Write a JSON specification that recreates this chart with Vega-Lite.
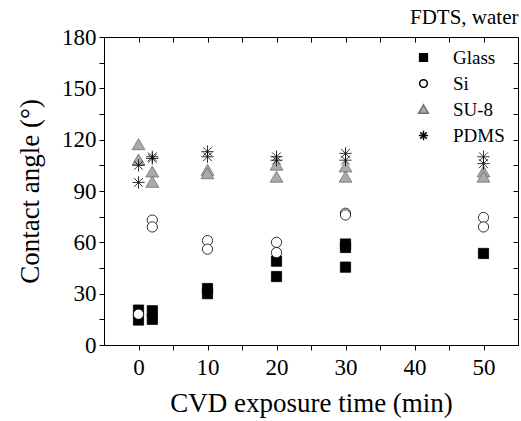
{
  "$schema": "https://vega.github.io/schema/vega-lite/v6.json",
  "autosize": "none",
  "width": 414,
  "height": 308,
  "padding": {"left": 104, "top": 37, "right": 3, "bottom": 76},
  "background": "white",
  "title": {"text": "FDTS, water", "anchor": "end", "font": "Liberation Serif, Times New Roman, serif", "fontSize": 21, "fontWeight": "normal", "color": "black", "offset": -2},
  "config": {
    "font": "Liberation Serif, Times New Roman, serif",
    "view": {"stroke": "black", "strokeWidth": 1},
    "axis": {"grid": false, "domainColor": "black", "tickColor": "black", "labelColor": "black", "titleColor": "black", "labelFont": "Liberation Serif, Times New Roman, serif", "titleFont": "Liberation Serif, Times New Roman, serif", "labelFontSize": 23, "titleFontSize": 27, "titleFontWeight": "normal"},
    "legend": {"labelFont": "Liberation Serif, Times New Roman, serif", "labelFontSize": 19, "labelColor": "black", "symbolSize": 60, "rowPadding": 6, "labelOffset": 20, "padding": 0}
  },
  "data": {"values": [
    {"series": "Glass", "time": 0, "angle": 20.4},
    {"series": "Glass", "time": 0, "angle": 14.6},
    {"series": "Glass", "time": 2, "angle": 20},
    {"series": "Glass", "time": 2, "angle": 15},
    {"series": "Glass", "time": 10, "angle": 33},
    {"series": "Glass", "time": 10, "angle": 30},
    {"series": "Glass", "time": 20, "angle": 49},
    {"series": "Glass", "time": 20, "angle": 40},
    {"series": "Glass", "time": 30, "angle": 59},
    {"series": "Glass", "time": 30, "angle": 57},
    {"series": "Glass", "time": 30, "angle": 45.5},
    {"series": "Glass", "time": 50, "angle": 53.5},
    {"series": "Si", "time": 0, "angle": 18},
    {"series": "Si", "time": 2, "angle": 73},
    {"series": "Si", "time": 2, "angle": 69},
    {"series": "Si", "time": 10, "angle": 61},
    {"series": "Si", "time": 10, "angle": 56},
    {"series": "Si", "time": 20, "angle": 60},
    {"series": "Si", "time": 20, "angle": 54},
    {"series": "Si", "time": 30, "angle": 77},
    {"series": "Si", "time": 30, "angle": 76},
    {"series": "Si", "time": 50, "angle": 74.5},
    {"series": "Si", "time": 50, "angle": 69},
    {"series": "SU-8", "time": 0, "angle": 117},
    {"series": "SU-8", "time": 0, "angle": 108},
    {"series": "SU-8", "time": 2, "angle": 101},
    {"series": "SU-8", "time": 2, "angle": 95},
    {"series": "SU-8", "time": 10, "angle": 102},
    {"series": "SU-8", "time": 10, "angle": 100},
    {"series": "SU-8", "time": 20, "angle": 105},
    {"series": "SU-8", "time": 20, "angle": 98},
    {"series": "SU-8", "time": 30, "angle": 104},
    {"series": "SU-8", "time": 30, "angle": 98},
    {"series": "SU-8", "time": 50, "angle": 101},
    {"series": "SU-8", "time": 50, "angle": 98},
    {"series": "PDMS", "time": 0, "angle": 105},
    {"series": "PDMS", "time": 0, "angle": 95},
    {"series": "PDMS", "time": 2, "angle": 110},
    {"series": "PDMS", "time": 2, "angle": 109},
    {"series": "PDMS", "time": 10, "angle": 113},
    {"series": "PDMS", "time": 10, "angle": 110},
    {"series": "PDMS", "time": 20, "angle": 110},
    {"series": "PDMS", "time": 20, "angle": 108},
    {"series": "PDMS", "time": 30, "angle": 112},
    {"series": "PDMS", "time": 30, "angle": 108},
    {"series": "PDMS", "time": 50, "angle": 110},
    {"series": "PDMS", "time": 50, "angle": 106}
  ]},
  "layer": [
    {
      "mark": {"type": "point", "filled": true, "size": 105, "strokeWidth": 0.8, "opacity": 1},
      "encoding": {
        "x": {"field": "time", "type": "quantitative", "scale": {"domain": [-5, 55], "nice": false, "zero": false},
              "axis": {"orient": "bottom", "title": "CVD exposure time (min)", "values": [0, 5, 10, 15, 20, 25, 30, 35, 40, 45, 50], "labelExpr": "datum.value % 10 == 0 ? datum.label : ''", "tickSize": 5, "labelPadding": 6, "titlePadding": 11}},
        "y": {"field": "angle", "type": "quantitative", "scale": {"domain": [0, 180], "nice": false},
              "axis": {"orient": "left", "title": "Contact angle (°)", "values": [0, 15, 30, 45, 60, 75, 90, 105, 120, 135, 150, 165, 180], "labelExpr": "datum.value % 30 == 0 ? datum.label : ''", "tickSize": 5, "labelPadding": 3, "titlePadding": 17}},
        "shape": {"field": "series", "type": "nominal", "sort": ["Glass", "Si", "SU-8", "PDMS"],
                  "scale": {"domain": ["Glass", "Si", "SU-8", "PDMS"], "range": ["square", "circle", "M0,-1.2L1.25,0.95L-1.25,0.95Z", "M-1.2,0L1.2,0M0,-1.2L0,1.2M-0.85,-0.85L0.85,0.85M-0.85,0.85L0.85,-0.85"]},
                  "legend": {"title": null, "orient": "none", "legendX": 310, "legendY": 11}},
        "fill": {"field": "series", "type": "nominal", "sort": ["Glass", "Si", "SU-8", "PDMS"],
                 "scale": {"domain": ["Glass", "Si", "SU-8", "PDMS"], "range": ["black", "white", "#aaaaaa", "black"]},
                 "legend": {"title": null, "orient": "none", "legendX": 310, "legendY": 11}},
        "stroke": {"field": "series", "type": "nominal", "sort": ["Glass", "Si", "SU-8", "PDMS"],
                   "scale": {"domain": ["Glass", "Si", "SU-8", "PDMS"], "range": ["black", "black", "#707070", "black"]},
                   "legend": {"title": null, "orient": "none", "legendX": 310, "legendY": 11}}
      }
    },
    {
      "mark": {"type": "point", "opacity": 0},
      "encoding": {
        "x": {"field": "time", "type": "quantitative", "axis": {"orient": "top", "title": null, "labels": false, "values": [0, 5, 10, 15, 20, 25, 30, 35, 40, 45, 50], "tickSize": -5}},
        "y": {"field": "angle", "type": "quantitative", "axis": {"orient": "right", "title": null, "labels": false, "values": [0, 15, 30, 45, 60, 75, 90, 105, 120, 135, 150, 165, 180], "tickSize": -5}}
      }
    }
  ],
  "resolve": {"axis": {"x": "independent", "y": "independent"}}
}
